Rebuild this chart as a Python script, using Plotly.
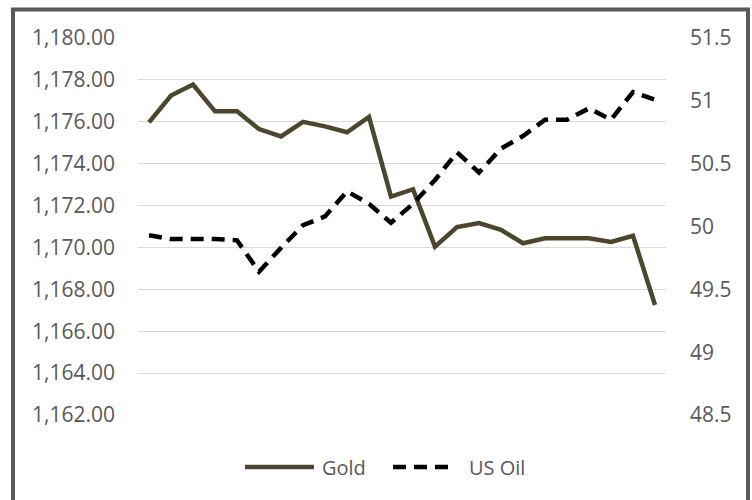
import plotly.graph_objects as go

days = list(range(1, 25))
gold = [1175.97, 1177.25, 1177.78, 1176.5, 1176.5, 1175.65, 1175.3, 1176.0,
        1175.78, 1175.5, 1176.23, 1172.43, 1172.78, 1170.04, 1170.97, 1171.16,
        1170.84, 1170.2, 1170.44, 1170.44, 1170.44, 1170.26, 1170.56, 1167.25]
us_oil = [49.93, 49.9, 49.9, 49.9, 49.89, 49.64, 49.83, 50.01,
          50.08, 50.28, 50.18, 50.03, 50.18, 50.37, 50.59, 50.43,
          50.62, 50.72, 50.85, 50.85, 50.94, 50.85, 51.07, 51.01]
gold_ticks = [1162, 1164, 1166, 1168, 1170, 1172, 1174, 1176, 1178, 1180]
oil_ticks = [48.5, 49, 49.5, 50, 50.5, 51, 51.5]

GOLD_C = "#4D462F"
TXT = "#595959"
FONT = "Open Sans"
FS = 20
TFS = 21

fig = go.Figure()
fig.add_trace(go.Scatter(x=days, y=gold, name="Gold", mode="lines",
                         line=dict(color=GOLD_C, width=4.5), yaxis="y",
                         showlegend=False))
fig.add_trace(go.Scatter(x=days, y=us_oil, name="US Oil", mode="lines",
                         line=dict(color="black", width=4.5, dash="13px,8px"),
                         yaxis="y2", showlegend=False))

W, H = 752, 500
ml, mr, mt, mb = 138, 86, 38, 85
pw, ph = W - ml - mr, H - mt - mb

def px_x(p):
    return (p - ml) / pw

def px_y(p):
    return (H - mb - p) / ph

shapes = [
    # outer chart frame
    dict(type="rect", xref="paper", yref="paper",
         x0=px_x(13), x1=px_x(748), y0=px_y(506), y1=px_y(9.5),
         line=dict(color="#595959", width=4), fillcolor="rgba(0,0,0,0)", layer="above"),
    # legend symbols
    dict(type="line", xref="paper", yref="paper",
         x0=px_x(245), x1=px_x(314), y0=px_y(467), y1=px_y(467),
         line=dict(color=GOLD_C, width=4.5)),
    dict(type="line", xref="paper", yref="paper",
         x0=px_x(393), x1=px_x(453), y0=px_y(467), y1=px_y(467),
         line=dict(color="black", width=4.5, dash="13px,8px")),
]
annotations = [
    dict(text="Gold", xref="paper", yref="paper", x=px_x(320), y=px_y(467),
         xanchor="left", yanchor="middle", showarrow=False,
         font=dict(family=FONT, size=FS, color=TXT)),
    dict(text="US Oil", xref="paper", yref="paper", x=px_x(467), y=px_y(467),
         xanchor="left", yanchor="middle", showarrow=False,
         font=dict(family=FONT, size=FS, color=TXT)),
]

fig.update_layout(
    width=W, height=H,
    margin=dict(l=ml, r=mr, t=mt, b=mb),
    paper_bgcolor="white", plot_bgcolor="white",
    font=dict(family=FONT, size=FS, color=TXT),
    xaxis=dict(type="linear", range=[0.5, 24.5], showgrid=False, zeroline=False,
               showticklabels=False, showline=False, ticks=""),
    yaxis=dict(range=[1162, 1180], tickvals=gold_ticks, tickformat=",.2f",
               showgrid=True, gridcolor="#D9D9D9", gridwidth=1.3, zeroline=False,
               showline=False, ticks="", ticklabelstandoff=22,
               tickfont=dict(family=FONT, size=TFS, color=TXT)),
    yaxis2=dict(range=[48.5, 51.5], tickvals=oil_ticks, overlaying="y", side="right",
                showgrid=False, zeroline=False, showline=False, ticks="",
                ticklabelstandoff=23,
                tickfont=dict(family=FONT, size=TFS, color=TXT)),
    shapes=shapes, annotations=annotations,
    showlegend=False,
)

fig.write_html("out.html", config={"displayModeBar": False})

with open("out.html", "r", encoding="utf-8") as f:
    html = f.read()
html = html.replace("<head>", "<head><style>html,body{margin:0;padding:0;overflow:hidden;}</style>", 1)
with open("out.html", "w", encoding="utf-8") as f:
    f.write(html)
